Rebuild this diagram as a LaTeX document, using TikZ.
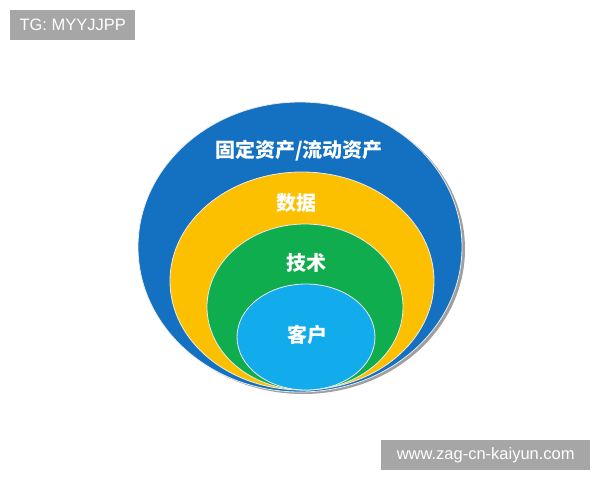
\documentclass[tikz,border=0pt]{standalone}
\usepackage{fontspec}
\usepackage{xcolor}
\usetikzlibrary{shapes.geometric,positioning}
\newfontfamily\cjk{Noto Sans CJK SC}
\setmainfont{Liberation Sans}

\definecolor{ringblue}{HTML}{1470C0}
\definecolor{ringyellow}{HTML}{FDC000}
\definecolor{ringgreen}{HTML}{10AD4E}
\definecolor{ringcyan}{HTML}{12ABEB}
\definecolor{markgray}{HTML}{A6A6A6}

\begin{document}
\begin{tikzpicture}[x=1pt, y=-1pt]
	\tikzstyle{every node} = [inner sep = 0pt]
	\tikzstyle{ring} = [ellipse, draw = white!85!gray, line width = 0.8pt]
	\tikzstyle{ringtext} = [text = white, font = \cjk\bfseries\fontsize{20}{24}\selectfont]
	\tikzstyle{watermark} = [fill = markgray, text = white, font = \fontsize{16.5}{19}\selectfont, anchor = north west]
\useasboundingbox (0, 0) rectangle (600, 480);

% shadow and rings
\node[ellipse, fill = gray!75, minimum width = 324pt, minimum height = 290pt] (shadow) at (303, 249) {};
\node[ring, fill = ringblue, minimum width = 324pt, minimum height = 290pt] (assets) at (300, 247) {};
\node[ring, fill = ringyellow, minimum width = 264pt, minimum height = 218pt] (data) at (302, 281) {};
\node[ring, fill = ringgreen, minimum width = 196pt, minimum height = 166pt] (tech) at (305, 307) {};
\node[ring, fill = ringcyan, minimum width = 138pt, minimum height = 106pt] (client) at (306, 337) {};

% labels
\node[ringtext] (assetstext) at (299, 151) {固定资产/流动资产};
\node[ringtext] (datatext) at (296, 203) {数据};
\node[ringtext] (techtext) at (306, 263) {技术};
\node[ringtext] (clienttext) at (307, 335) {客户};

% watermarks
\node[watermark, minimum width = 125pt, minimum height = 30pt] (tg) at (10, 10) {TG: MYYJJPP};
\node[watermark, minimum width = 209pt, minimum height = 30pt] (site) at (381, 440) {www.zag-cn-kaiyun.com};
\end{tikzpicture}
\end{document}
